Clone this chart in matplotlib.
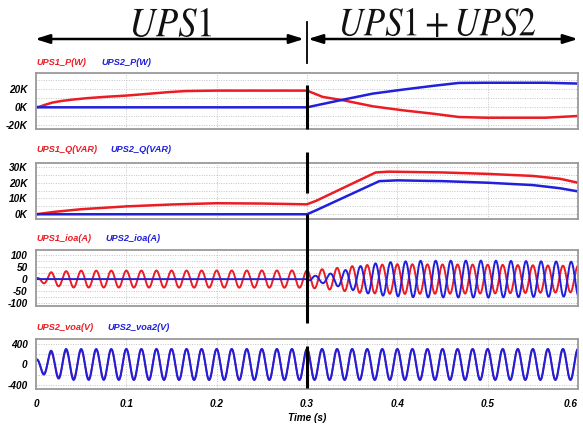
import numpy as np
import matplotlib
matplotlib.use('Agg')
import matplotlib.pyplot as plt
from matplotlib.patches import FancyArrowPatch, PathPatch
from matplotlib.textpath import TextPath
from matplotlib.font_manager import FontProperties
from matplotlib.transforms import Affine2D, blended_transform_factory
from matplotlib.lines import Line2D

# ---- data ----
F = 60.0  # Hz
t_switch = 0.3

# active power (W)
p1_t = [0, 0.005, 0.01, 0.018, 0.028, 0.04, 0.055, 0.075, 0.1, 0.125, 0.145, 0.165, 0.2, 0.3,
        0.3175, 0.34, 0.373, 0.406, 0.439, 0.468, 0.498, 0.564, 0.6]
p1_v = [0, 1000, 2800, 5200, 7000, 8500, 10000, 11500, 13000, 15000, 16700, 18000, 18500, 18500,
        11500, 7800, 1100, -3300, -7000, -10700, -11500, -11500, -9600]
p2_t = [0, 0.3, 0.34, 0.373, 0.406, 0.439, 0.468, 0.498, 0.564, 0.6]
p2_v = [0, 0, 8500, 15200, 19600, 23700, 27000, 27200, 27200, 26300]

# reactive power (VAR)
q1_t = [0, 0.02, 0.05, 0.1, 0.15, 0.2, 0.25, 0.3, 0.31, 0.376, 0.39, 0.45, 0.5, 0.55, 0.58, 0.6]
q1_v = [0, 1500, 3200, 5000, 6200, 7000, 6800, 6300, 8500, 26500, 27000, 26500, 25600, 24300, 22500, 20000]
q2_t = [0, 0.3, 0.31, 0.38, 0.4, 0.45, 0.5, 0.55, 0.58, 0.6]
q2_v = [0, 0, 2500, 21000, 21500, 21000, 20000, 18500, 16500, 14500]

# current envelopes (A) and phases
i1_env_t = [0, 0.008, 0.017, 0.025, 0.04, 0.3, 0.33, 0.36, 0.4, 0.5, 0.6]
i1_env_a = [3, 17, 29, 30, 35, 36, 45, 58, 62, 60, 55]
i1_phase = 0.0
i2_env_t = [0, 0.3, 0.305, 0.32, 0.34, 0.36, 0.38, 0.42, 0.5, 0.6]
i2_env_a = [0, 0, 12, 18, 35, 55, 68, 76, 77, 72]
i2_phase = np.pi - 0.3

# voltage envelopes (V)
v1_env_t = [0, 0.008, 0.016, 0.024, 0.033, 0.05, 0.08, 0.1, 0.6]
v1_env_a = [90, 175, 230, 245, 270, 275, 285, 300, 300]
v2_env_t = [0, 0.002, 0.008, 0.016, 0.024, 0.033, 0.05, 0.6]
v2_env_a = [90, 120, 190, 265, 270, 300, 300, 300]

# ticks
x_ticks = [0, 0.1, 0.2, 0.3, 0.4, 0.5, 0.6]
x_labels = ['0', '0.1', '0.2', '0.3', '0.4', '0.5', '0.6']
p_ticks = [20000, 0, -20000]
p_labels = ['20K', '0K', '-20K']
q_ticks = [30000, 20000, 10000, 0]
q_labels = ['30K', '20K', '10K', '0K']
i_ticks = [100, 50, 0, -50, -100]
i_labels = ['100', '50', '0', '-50', '-100']
v_ticks = [400, 0, -400]
v_labels = ['400', '0', '-400']

RED = '#ec1c24'
BLUE = '#1f1fdc'

plt.rcParams['mathtext.fontset'] = 'stix'
FAMILY = ['Liberation Sans', 'DejaVu Sans']
TICKFONT = dict(family=FAMILY, style='italic', weight='bold', size=7.2)

W, H = 583, 424
fig = plt.figure(figsize=(W / 100, H / 100), dpi=100)


def make_axes(top, bottom):
    ax = fig.add_axes([36 / W, 1 - bottom / H, 542 / W, (bottom - top) / H])
    ax.set_xlim(0, 0.6)
    ax.set_xticks(x_ticks)
    ax.tick_params(length=0, pad=6)
    for s in ax.spines.values():
        s.set_color('#9a9a9a')
        s.set_linewidth(1.3)
    ax.grid(True, which='both', linestyle=(0, (1, 1.5)), color='#c4c4c4', linewidth=0.7)
    ax.set_axisbelow(True)
    return ax


def legend(ax, txt1, txt2, x2, gap):
    kw = dict(xycoords='axes fraction', textcoords='offset pixels', va='center', ha='left',
              family=FAMILY, style='italic', weight='bold', size=6.6)
    ax.annotate(txt1, (0, 1), (0, gap), color=RED, **kw)
    ax.annotate(txt2, (0, 1), (x2 - 36, gap), color=BLUE, **kw)


def set_y(ax, lim, ticks, labels, minor):
    ax.set_ylim(*lim)
    ax.set_yticks(ticks)
    ax.set_yticklabels(labels, fontdict=TICKFONT)
    ax.set_yticks(minor, minor=True)
    ax.tick_params(which='minor', length=0)


t = np.linspace(0, 0.6, 8001)
w = 2 * np.pi * F

# P panel
axp = make_axes(73, 129)
axp.plot(p1_t, p1_v, color=RED, lw=1.8)
axp.plot(p2_t, p2_v, color=BLUE, lw=1.8)
set_y(axp, (-24000, 38000), p_ticks, p_labels, [-10000, 10000, 30000])
axp.set_xticklabels([])
legend(axp, 'UPS1_P(W)', 'UPS2_P(W)', 101, 11)

# Q panel
axq = make_axes(163, 219)
axq.plot(q1_t, q1_v, color=RED, lw=1.8)
axq.plot(q2_t, q2_v, color=BLUE, lw=1.8)
set_y(axq, (-3000, 32500), q_ticks, q_labels, [5000, 15000, 25000])
axq.set_xticklabels([])
legend(axq, 'UPS1_Q(VAR)', 'UPS2_Q(VAR)', 110, 13)

# current panel
axi = make_axes(250, 306)
i1 = np.interp(t, i1_env_t, i1_env_a) * np.cos(w * t + i1_phase)
i2 = np.interp(t, i2_env_t, i2_env_a) * np.cos(w * t + i2_phase)
axi.plot(t, i1, color=RED, lw=1.4)
axi.plot(t, i2, color=BLUE, lw=1.4)
set_y(axi, (-112, 121), i_ticks, i_labels, [-75, -25, 25, 75])
axi.set_xticklabels([])
legend(axi, 'UPS1_ioa(A)', 'UPS2_ioa(A)', 105, 12)

# voltage panel
axv = make_axes(339, 389)
v1 = np.interp(t, v1_env_t, v1_env_a) * np.cos(w * t)
v2 = np.interp(t, v2_env_t, v2_env_a) * np.cos(w * t)
axv.plot(t, v1, color=RED, lw=1.2)
axv.plot(t, v2, color=BLUE, lw=1.5)
set_y(axv, (-477, 495), v_ticks, v_labels, [-200, 200])
axv.set_xticklabels(x_labels, fontdict=TICKFONT)
axv.get_xticklabels()[-1].set_horizontalalignment('right')
axv.tick_params(axis='x', pad=7)
axv.set_xlabel('Time (s)', fontdict=TICKFONT, labelpad=3)
legend(axv, 'UPS2_voa(V)', 'UPS2_voa2(V)', 107, 12)

# switch-over marker: vertical bars at t = 0.3
btr = blended_transform_factory(axv.transData, fig.transFigure)
fig.add_artist(Line2D([t_switch, t_switch], [1 - 22 / H, 1 - 63 / H], transform=btr,
                      color='black', lw=1.3))
for top, bot in [(85, 129), (152, 193), (214, 323), (346, 388)]:
    fig.add_artist(Line2D([t_switch, t_switch], [1 - top / H, 1 - bot / H], transform=btr,
                          color='black', lw=2.2, solid_capstyle='butt'))

# double arrows
arrow_kw = dict(arrowstyle='<|-|>,head_length=0.86,head_width=0.27', mutation_scale=10,
                color='black', lw=1.8, shrinkA=0, shrinkB=0, transform=fig.transFigure)
fig.add_artist(FancyArrowPatch((35 / W, 1 - 39 / H), (304 / W, 1 - 39 / H), **arrow_kw))
fig.add_artist(FancyArrowPatch((308 / W, 1 - 39 / H), (578 / W, 1 - 39 / H), **arrow_kw))


def title(s, left, right, top, bottom):
    tp = TextPath((0, 0), s, size=40, prop=FontProperties(math_fontfamily='stix'))
    ext = tp.get_extents()
    tr = (Affine2D().translate(-ext.x0, -ext.y0)
          .scale((right - left) / ext.width, (bottom - top) / ext.height)
          .translate(left, H - bottom))
    fig.add_artist(PathPatch(tp, transform=tr, fc='#111111', ec='none'))


title(r'$UPS1$', 133, 211, 8, 37)
title(r'$UPS1+UPS2$', 342, 535, 8, 37)

fig.savefig('out.png', dpi=100)
